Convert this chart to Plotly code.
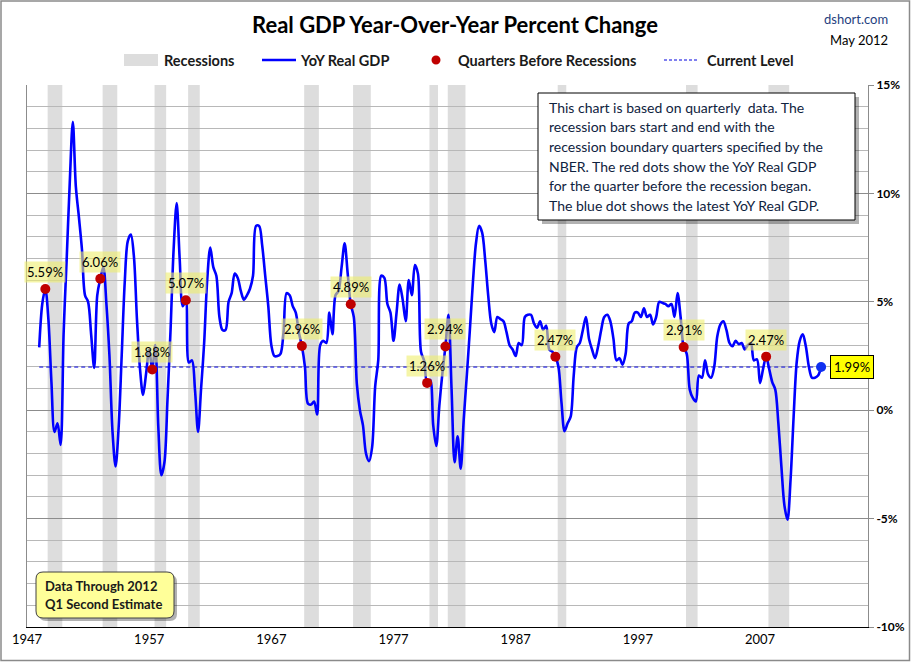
import plotly.graph_objects as go

# ---------------- data ----------------
first_year = 1948  # series starts 1948Q1, quarterly YoY % change
yoy_1948_1959 = [
    2.9, 4.9, 5.59, 4.2,
    1.3, -1.0, -0.6, -1.6,
    3.6, 7.0, 10.5, 13.3,
    10.3, 8.9, 7.4, 5.3,
    5.0, 3.5, 1.95, 5.3,
    6.06, 6.6, 4.9, 2.5,
    -1.0, -2.6, -0.8, 2.5,
    5.9, 7.8, 8.1, 7.1,
    4.2, 1.9, 0.7, 1.7,
    2.8, 1.88, 3.0, -0.8,
    -3.0, -2.4, 0.5, 3.7,
    7.4, 9.55, 6.95, 4.8,
]
yoy_1960_1979 = [
    5.07, 2.2, 2.3, 0.95,
    -1.0, 1.0, 3.1, 6.0,
    7.5, 6.6, 6.2, 4.3,
    3.7, 3.7, 5.0, 5.4,
    6.3, 6.1, 5.5, 5.1,
    5.3, 5.6, 6.2, 8.5,
    8.5, 7.6, 6.2, 4.8,
    3.0, 2.5, 2.5, 2.6,
    3.6, 5.4, 5.3, 4.8,
    4.5, 3.6, 2.96, 2.0,
    0.3, 0.26, 0.4, -0.2,
    3.0, 3.2, 3.1, 4.5,
    3.5, 5.3, 5.5, 6.6,
    7.7, 6.3, 4.89, 4.3,
    1.2, 0.0, -0.7, -2.0,
    -2.35, -1.7, 1.1, 2.3,
    6.2, 6.1, 4.9, 4.5,
    3.2, 4.5, 5.8, 5.1,
    4.1, 6.0, 5.3, 6.7,
    6.3, 2.7, 2.3, 1.26,
]
yoy_1980_1999 = [
    1.4, -0.7, -1.65, 0.2,
    1.7, 2.94, 4.4, 1.0,
    -2.4, -1.2, -2.7, -0.4,
    1.6, 3.7, 5.9, 7.7,
    8.5, 8.2, 6.95, 5.3,
    4.0, 3.6, 4.3, 4.2,
    4.1, 3.6, 3.0, 2.8,
    2.5, 3.1, 3.0, 4.3,
    4.4, 4.4, 4.0, 3.8,
    4.1, 3.7, 3.9, 2.8,
    2.7, 2.47, 2.0, 0.35,
    -0.97, -0.6, -0.3, 1.6,
    2.9, 3.1, 3.7, 4.3,
    3.3, 2.8, 2.4, 2.95,
    3.7, 4.3, 4.4, 4.1,
    3.3, 2.3, 2.4, 2.1,
    2.6, 4.0, 4.1, 4.5,
    4.5, 4.3, 4.7, 4.3,
    4.4, 3.95, 4.3, 5.0,
    4.95, 4.9, 4.8, 4.9,
]
yoy_2000_2012 = [
    4.3, 5.4, 4.3, 2.91,
    2.6, 0.95, 0.57, 0.4,
    1.6, 1.5, 2.3, 1.65,
    1.5, 2.0, 3.4, 3.95,
    4.1, 3.7, 3.1, 2.95,
    3.2, 3.05, 3.1, 2.8,
    3.0, 3.1, 2.3, 2.35,
    1.25, 1.9, 2.47, 1.9,
    1.3, 0.95, -0.6, -2.6,
    -4.4, -5.05, -3.2, -0.3,
    2.2, 3.2, 3.5, 2.95,
    2.0, 1.5, 1.5, 1.6,
    1.99,
]
# NBER recessions (start quarter, end quarter)
recession_start = ["1948Q4", "1953Q2", "1957Q3", "1960Q2", "1969Q4", "1973Q4",
                   "1980Q1", "1981Q3", "1990Q3", "2001Q1", "2007Q4"]
recession_end = ["1949Q4", "1954Q2", "1958Q2", "1961Q1", "1970Q4", "1975Q1",
                 "1980Q3", "1982Q4", "1991Q1", "2001Q4", "2009Q2"]
x_tick_years = [1947, 1957, 1967, 1977, 1987, 1997, 2007]
y_tick_vals = [-10, -5, 0, 5, 10, 15]

# ---------------- derived ----------------
yoy = yoy_1948_1959 + yoy_1960_1979 + yoy_1980_1999 + yoy_2000_2012
xs = [first_year + i / 4 for i in range(len(yoy))]


def qpos(label):
    return int(label[:4]) + (int(label[5]) - 1) / 4


def qindex(label):
    return round((qpos(label) - first_year) * 4)


before_idx = [qindex(s) - 1 for s in recession_start]
dot_x = [xs[i] for i in before_idx]
dot_y = [yoy[i] for i in before_idx]
latest_x, latest_y = xs[-1], yoy[-1]

# ---------------- layout geometry (pixels) ----------------
W_FIG, H_FIG = 911, 662
L, R, T, B = 27, 868, 85, 627
PW, PH = R - L, B - T


def px(x):
    return (x - L) / PW


def py(y):
    return (B - y) / PH


FONT = "Lato, Carlito, Calibri, sans-serif"
fig = go.Figure()

# current level dashed line
fig.add_trace(go.Scatter(x=[xs[0], latest_x], y=[latest_y, latest_y], mode="lines",
                         line=dict(color="#0000E0", width=1, dash="4px,3px"),
                         hoverinfo="skip", showlegend=False))
# main line
fig.add_trace(go.Scatter(x=xs, y=yoy, mode="lines",
                         line=dict(color="#0000FF", width=2.6, shape="spline", smoothing=0.9),
                         showlegend=False))
# red dots
fig.add_trace(go.Scatter(x=dot_x, y=dot_y, mode="markers",
                         marker=dict(color="#C00000", size=10), showlegend=False))
# blue dot
fig.add_trace(go.Scatter(x=[latest_x], y=[latest_y], mode="markers",
                         marker=dict(color="#1030F0", size=10), showlegend=False))

shapes = []
# recession bars
for s, e in zip(recession_start, recession_end):
    shapes.append(dict(type="rect", xref="x", yref="paper", x0=qpos(s) - 0.06, x1=qpos(e) + 0.14,
                       y0=0, y1=1, fillcolor="#DDDDDD", line=dict(width=0), layer="below"))

# outer border
shapes.append(dict(type="rect", xref="paper", yref="paper", x0=px(1), x1=px(909.5), y0=py(660.5), y1=py(1),
                   line=dict(color="#8A8A8A", width=1.5), fillcolor="rgba(0,0,0,0)", layer="above"))

# legend symbols
shapes.append(dict(type="rect", xref="paper", yref="paper", x0=px(124), x1=px(158), y0=py(66), y1=py(54),
                   fillcolor="#DDDDDD", line=dict(width=0)))
shapes.append(dict(type="line", xref="paper", yref="paper", x0=px(262), x1=px(296), y0=py(60), y1=py(60),
                   line=dict(color="#0000FF", width=2.6)))
shapes.append(dict(type="circle", xref="paper", yref="paper", x0=px(431.5), x1=px(440.5), y0=py(64.5),
                   y1=py(55.5), fillcolor="#C00000", line=dict(width=0)))
shapes.append(dict(type="line", xref="paper", yref="paper", x0=px(664), x1=px(698), y0=py(60), y1=py(60),
                   line=dict(color="#0000E0", width=1, dash="3px,2px")))

# note box (with shadow)
bx0, by0, bx1, by1 = 538, 93, 855, 220
shapes.append(dict(type="rect", xref="paper", yref="paper", x0=px(bx0 + 4), x1=px(bx1 + 4), y0=py(by1 + 4),
                   y1=py(by0 + 4), fillcolor="rgba(0,0,0,0.3)", line=dict(width=0), layer="above"))
shapes.append(dict(type="rect", xref="paper", yref="paper", x0=px(bx0), x1=px(bx1), y0=py(by1),
                   y1=py(by0), fillcolor="white", line=dict(color="black", width=1), layer="above"))


def rounded_path(x0, y0, x1, y1, r):
    p = [
        f"M {px(x0 + r)} {py(y0)}",
        f"L {px(x1 - r)} {py(y0)}",
        f"Q {px(x1)} {py(y0)} {px(x1)} {py(y0 + r)}",
        f"L {px(x1)} {py(y1 - r)}",
        f"Q {px(x1)} {py(y1)} {px(x1 - r)} {py(y1)}",
        f"L {px(x0 + r)} {py(y1)}",
        f"Q {px(x0)} {py(y1)} {px(x0)} {py(y1 - r)}",
        f"L {px(x0)} {py(y0 + r)}",
        f"Q {px(x0)} {py(y0)} {px(x0 + r)} {py(y0)}",
        "Z",
    ]
    return " ".join(p)


dx0, dy0, dx1, dy1 = 36, 572, 174, 618
shapes.append(dict(type="path", xref="paper", yref="paper", path=rounded_path(dx0 + 3, dy0 + 3, dx1 + 3, dy1 + 3, 7),
                   fillcolor="rgba(0,0,0,0.3)", line=dict(width=0), layer="above"))
shapes.append(dict(type="path", xref="paper", yref="paper", path=rounded_path(dx0, dy0, dx1, dy1, 7),
                   fillcolor="#FFFF99", line=dict(color="#404040", width=1), layer="above"))

annotations = []
# title etc.
annotations.append(dict(xref="paper", yref="paper", x=px(455), y=py(24), text="<b>Real GDP Year-Over-Year Percent Change</b>",
                        showarrow=False, font=dict(family=FONT, size=22, color="black"), xanchor="center", yanchor="middle"))
annotations.append(dict(xref="paper", yref="paper", x=px(890), y=py(19), text="dshort.com",
                        showarrow=False, font=dict(family=FONT, size=13, color="#1F3F80"), xanchor="right", yanchor="middle"))
annotations.append(dict(xref="paper", yref="paper", x=px(890), y=py(40), text="May 2012",
                        showarrow=False, font=dict(family=FONT, size=13, color="black"), xanchor="right", yanchor="middle"))
# legend texts
for lx, txt in [(162, "Recessions"), (298, "YoY Real GDP"), (456, "Quarters Before Recessions"), (705, "Current Level")]:
    annotations.append(dict(xref="paper", yref="paper", x=px(lx), y=py(60), text=f"<b>{txt}</b>", showarrow=False,
                            font=dict(family=FONT, size=14.5, color="#1A1A1A"), xanchor="left", yanchor="middle"))
# note box text
note_lines = [
    "This chart is based on quarterly  data. The",
    "recession bars start and end with the",
    "recession boundary quarters specified by the",
    "NBER. The red dots show the YoY Real GDP",
    "for the quarter before the recession began.",
    "The blue dot shows the latest YoY Real GDP.",
]
for i, line in enumerate(note_lines):
    annotations.append(dict(xref="paper", yref="paper", x=px(547), y=py(107 + i * 19.7), text=line, showarrow=False,
                            font=dict(family=FONT, size=14, color="#0F2340"), xanchor="left", yanchor="middle"))
# data-through box text
for i, line in enumerate(["Data Through 2012", "Q1 Second Estimate"]):
    annotations.append(dict(xref="paper", yref="paper", x=px(43), y=py(586 + i * 17.5), text=f"<b>{line}</b>",
                            showarrow=False, font=dict(family=FONT, size=13, color="#1A1A1A"),
                            xanchor="left", yanchor="middle"))
# red dot labels
for xv, yv in zip(dot_x, dot_y):
    annotations.append(dict(xref="x", yref="y", x=xv, y=yv, yshift=17, text=f"{yv:.2f}%", showarrow=False,
                            font=dict(family=FONT, size=13, color="black"), bgcolor="rgba(238,238,110,0.6)",
                            borderpad=2, xanchor="center", yanchor="middle"))
# latest label
annotations.append(dict(xref="x", yref="y", x=latest_x, y=latest_y, xshift=9, text=f"{latest_y:.2f}%",
                        showarrow=False, font=dict(family=FONT, size=13, color="black"), bgcolor="#FFFF00",
                        bordercolor="black", borderwidth=1, borderpad=3, xanchor="left", yanchor="middle"))

fig.update_layout(
    width=W_FIG, height=H_FIG,
    margin=dict(l=L, r=W_FIG - R, t=T, b=H_FIG - B, autoexpand=False),
    paper_bgcolor="white", plot_bgcolor="white",
    showlegend=False,
    shapes=shapes, annotations=annotations,
    font=dict(family=FONT),
    xaxis=dict(range=[1947, 1947 + PW / 12.217], tickvals=x_tick_years, ticktext=[str(v) for v in x_tick_years],
               showgrid=False, zeroline=False, showline=True, linecolor="black", linewidth=1.3,
               ticks="", tickfont=dict(family=FONT, size=13, color="black"), fixedrange=True),
    yaxis=dict(range=[-10, 15], side="right", tickvals=y_tick_vals, ticktext=[f"<b>{v}%</b>" for v in y_tick_vals],
               showgrid=True, gridcolor="#8C8C8C", gridwidth=1, zeroline=False,
               showline=True, linecolor="#8C8C8C", linewidth=1, mirror=True,
               ticks="outside", ticklen=5, tickcolor="#8C8C8C",
               minor=dict(dtick=1, showgrid=True, gridcolor="#B8B8B8", gridwidth=1, ticks=""),
               tickfont=dict(family=FONT, size=12, color="black"), fixedrange=True),
)

fig.write_html("out.html", config={"displayModeBar": False},
               post_script="document.body.style.margin='0px';document.body.style.overflow='hidden';")
